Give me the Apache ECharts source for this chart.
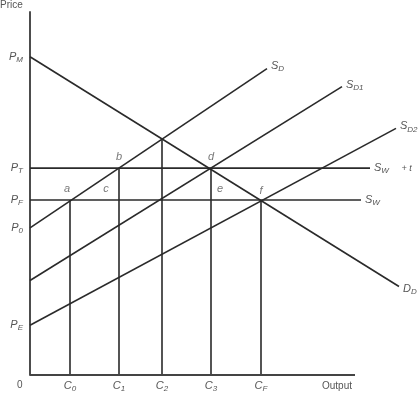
<!DOCTYPE html>
<html><head><meta charset="utf-8">
<script src="https://cdn.jsdelivr.net/npm/echarts@6/dist/echarts.min.js"></script>
<style>html,body{margin:0;padding:0;background:#fff}#c{width:418px;height:393px}</style>
</head><body><div id="c"></div>
<script>
// Price tick levels (y) and their subscripts
const yTickValues = [320, 208, 176, 148, 50];
const yTickSubs   = ['M', 'T', 'F', '0', 'E'];
// Quantity tick positions (x) and their subscripts
const xTickValues = [40, 89, 132, 181, 231];
const xTickSubs   = ['0', '1', '2', '3', 'F'];
// Heights of the vertical drop lines at each quantity
const dropTops    = [176, 208, 237, 208, 176];
// Drawn length of the output axis
const outputAxisEnd = 325;

// Curves: [start, end]
const sD   = [[0, 148], [237, 308]];
const sD1  = [[0, 95],  [312, 290]];
const sD2  = [[0, 50],  [366, 248]];
const dD   = [[0, 320], [369, 89]];
const swT  = [[0, 208], [340, 208]];
const sw   = [[0, 176], [331, 176]];

// Intersection point labels
const pointNames = ['a', 'b', 'c', 'd', 'e', 'f'];
const pointX     = [40, 89, 89, 181, 181, 231];
const pointY     = [176, 208, 176, 208, 176, 176];
const pointOffsets = [[-3, 0], [0, 0], [-13, 0], [0, 0], [9, 0], [0, 2]];

const TXT = '#555';
const FONT = 'Liberation Sans, Arial, sans-serif';
const rich = {
  m: {fontSize: 11, fontStyle: 'italic', color: TXT, fontFamily: FONT, lineHeight: 14},
  s: {fontSize: 8, fontStyle: 'italic', color: TXT, fontFamily: FONT, lineHeight: 14, verticalAlign: 'bottom', padding: [5, 0, 0, 0]},
  t: {fontSize: 9, fontStyle: 'italic', color: TXT, fontFamily: FONT, lineHeight: 14}
};

function curve(data, labelText, offset) {
  return {
    type: 'line', data: data, symbol: 'none', clip: false, silent: true,
    lineStyle: {color: '#2a2a2a', width: 1.6},
    endLabel: labelText ? {show: true, formatter: labelText, rich: rich, distance: 4, offset: offset || [0, 0]} : undefined,
    z: 3
  };
}

const series = [
  {type: 'line', data: [[0, 0], [outputAxisEnd, 0]], symbol: 'none', silent: true,
   lineStyle: {color: '#444', width: 1.9}, z: 4},
  curve(sD, '{m|S}{s|D}', [0, -3]),
  curve(sD1, '{m|S}{s|D1}', [0, -2]),
  curve(sD2, '{m|S}{s|D2}', [0, -2]),
  curve(dD, '{m|D}{s|D}', [0, 2]),
  curve(swT, '{m|S}{s|W}{t|     + t}', [0, 0]),
  curve(sw, '{m|S}{s|W}', [0, 0])
];
xTickValues.forEach((x, i) => {
  series.push(curve([[x, 0], [x, dropTops[i]]]));
});
series.push({
  type: 'scatter', symbolSize: 0, silent: true, clip: false,
  data: pointNames.map((n, i) => ({name: n, value: [pointX[i], pointY[i]],
    label: {offset: pointOffsets[i]}})),
  label: {show: true, position: 'top', distance: 6, formatter: p => p.name,
    fontSize: 11, fontStyle: 'italic', color: TXT, fontFamily: FONT}
});

const chart = echarts.init(document.getElementById('c'), null, {renderer: 'canvas'});
chart.setOption({
  animation: false,
  backgroundColor: '#fff',
  grid: {left: 30, top: 12, width: 370, height: 365, containLabel: false},
  xAxis: {
    type: 'value', min: 0, max: 370,
    splitLine: {show: false}, axisTick: {show: false},
    axisLine: {show: false},
    axisLabel: {show: true, customValues: xTickValues, margin: 4,
      formatter: v => '{m|C}{s|' + xTickSubs[xTickValues.indexOf(v)] + '}', rich: rich}
  },
  yAxis: {
    type: 'value', min: 0, max: 365,
    splitLine: {show: false}, axisTick: {show: false},
    axisLine: {show: true, lineStyle: {color: '#444', width: 1.9}},
    axisLabel: {show: true, customValues: yTickValues, margin: 7,
      formatter: v => '{m|P}{s|' + yTickSubs[yTickValues.indexOf(v)] + '}', rich: rich}
  },
  graphic: [
    {type: 'text', left: 0, top: 0, style: {text: 'Price', fontSize: 10, fill: TXT, fontFamily: FONT}},
    {type: 'text', left: 17, top: 380, style: {text: '0', fontSize: 10, fill: TXT, fontFamily: FONT}},
    {type: 'text', left: 322, top: 381, style: {text: 'Output', fontSize: 10, fill: TXT, fontFamily: FONT}}
  ],
  series: series
});
</script></body></html>
